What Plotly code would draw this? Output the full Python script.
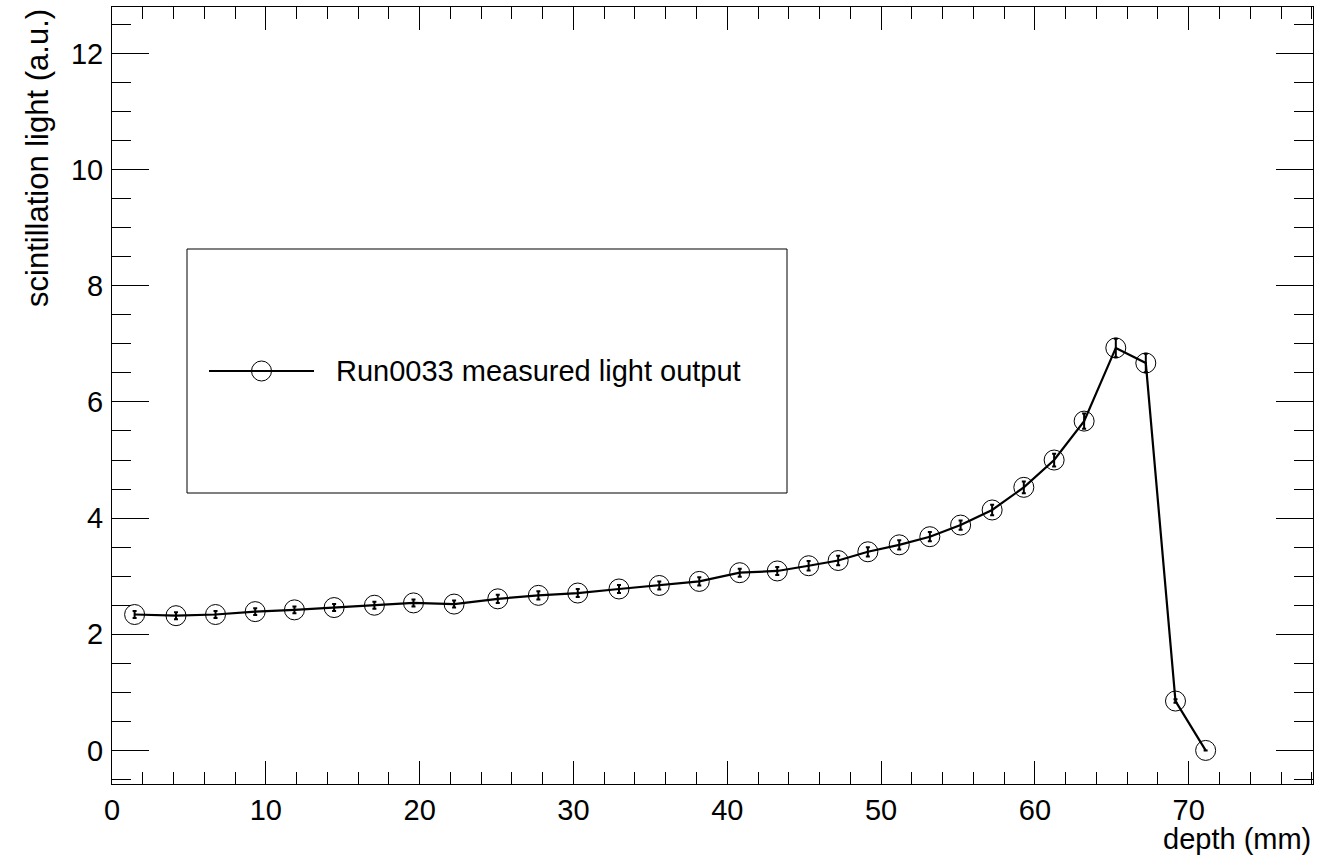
import plotly.graph_objects as go

# measured light output vs depth
depth_mm = [1.47, 4.16, 6.73, 9.31, 11.86, 14.44, 17.06, 19.60, 22.24, 25.08,
            27.72, 30.28, 32.96, 35.58, 38.18, 40.81, 43.25, 45.29, 47.21, 49.14,
            51.18, 53.17, 55.17, 57.22, 59.28, 61.25, 63.20, 65.26, 67.21, 69.14,
            71.10]
light = [2.34, 2.32, 2.34, 2.39, 2.42, 2.46, 2.50, 2.54, 2.52, 2.61,
         2.67, 2.71, 2.78, 2.84, 2.91, 3.06, 3.09, 3.18, 3.27, 3.42,
         3.54, 3.68, 3.88, 4.14, 4.53, 5.00, 5.67, 6.93, 6.67, 0.85,
         0.00]
light_err = [0.06, 0.06, 0.06, 0.06, 0.06, 0.06, 0.06, 0.06, 0.06, 0.07,
             0.07, 0.07, 0.07, 0.07, 0.07, 0.07, 0.07, 0.08, 0.08, 0.08,
             0.08, 0.08, 0.08, 0.09, 0.10, 0.11, 0.13, 0.16, 0.16, 0.03,
             0.00]

legend_label = "Run0033 measured light output"

FONT = "Liberation Sans, Arial, Helvetica, sans-serif"

fig = go.Figure()

fig.add_trace(go.Scatter(
    x=depth_mm, y=light,
    error_y=dict(type="data", array=light_err, color="black", thickness=2, width=2),
    mode="lines+markers",
    line=dict(color="black", width=2.2),
    marker=dict(symbol="circle-open", size=20, color="black", line=dict(width=1)),
    name=legend_label,
    showlegend=False,
))

# plot area in pixels, used to place the hand-drawn legend
L, R, T, B = 112, 5, 7, 71
W, H = 1318, 855
pw, ph = W - L - R, H - T - B


def px(x):
    return (x - L) / pw


def py(y):
    return (H - B - y) / ph


# legend box
fig.add_shape(type="rect", xref="paper", yref="paper",
              x0=px(187), x1=px(787), y0=py(493), y1=py(249),
              line=dict(color="black", width=1), fillcolor="white", layer="above")
fig.add_shape(type="line", xref="paper", yref="paper",
              x0=px(209), x1=px(314), y0=py(371), y1=py(371),
              line=dict(color="black", width=2.2), layer="above")
fig.add_shape(type="circle", xref="paper", yref="paper",
              xsizemode="pixel", ysizemode="pixel",
              xanchor=px(261.5), yanchor=py(371),
              x0=-10, x1=10, y0=-10, y1=10,
              line=dict(color="black", width=1), layer="above")
fig.add_annotation(x=px(334), y=py(371), xref="paper", yref="paper",
                   text=legend_label, showarrow=False,
                   xanchor="left", yanchor="middle",
                   font=dict(size=29, color="black", family=FONT))

# axis titles, ROOT style: x right aligned, y top aligned
fig.add_annotation(x=1, y=py(839), xref="paper", yref="paper",
                   text="depth (mm)", showarrow=False,
                   xanchor="right", yanchor="middle",
                   font=dict(size=29, color="black", family=FONT))
fig.add_annotation(x=px(37), y=1, xref="paper", yref="paper",
                   text="scintillation light (a.u.)", showarrow=False,
                   textangle=-90, xanchor="center", yanchor="top",
                   font=dict(size=31, color="black", family=FONT))

fig.update_xaxes(
    range=[0, 78.08],
    dtick=10, tick0=0,
    ticks="inside", ticklen=23, tickwidth=1, tickcolor="black",
    minor=dict(dtick=2, ticks="inside", ticklen=12, tickwidth=1, tickcolor="black"),
    showline=True, linecolor="black", linewidth=1, mirror="ticks",
    showgrid=False, zeroline=False,
    tickfont=dict(size=29, color="black", family=FONT),
    ticklabelstandoff=0,
)
fig.update_yaxes(
    range=[-0.578, 12.80],
    dtick=2, tick0=0,
    ticks="inside", ticklen=37, tickwidth=1, tickcolor="black",
    minor=dict(dtick=0.5, ticks="inside", ticklen=19, tickwidth=1, tickcolor="black"),
    showline=True, linecolor="black", linewidth=1, mirror="ticks",
    showgrid=False, zeroline=False,
    tickfont=dict(size=29, color="black", family=FONT),
    ticklabelstandoff=2,
)

fig.update_layout(
    width=W, height=H,
    margin=dict(l=L, r=R, t=T, b=B),
    plot_bgcolor="white",
    paper_bgcolor="white",
    font=dict(family=FONT, color="black"),
)

# drop the browser's default body margin so the figure sits at the page corner
fig.write_html("out.html", config={"displayModeBar": False},
               post_script="document.body.style.margin='0';")
